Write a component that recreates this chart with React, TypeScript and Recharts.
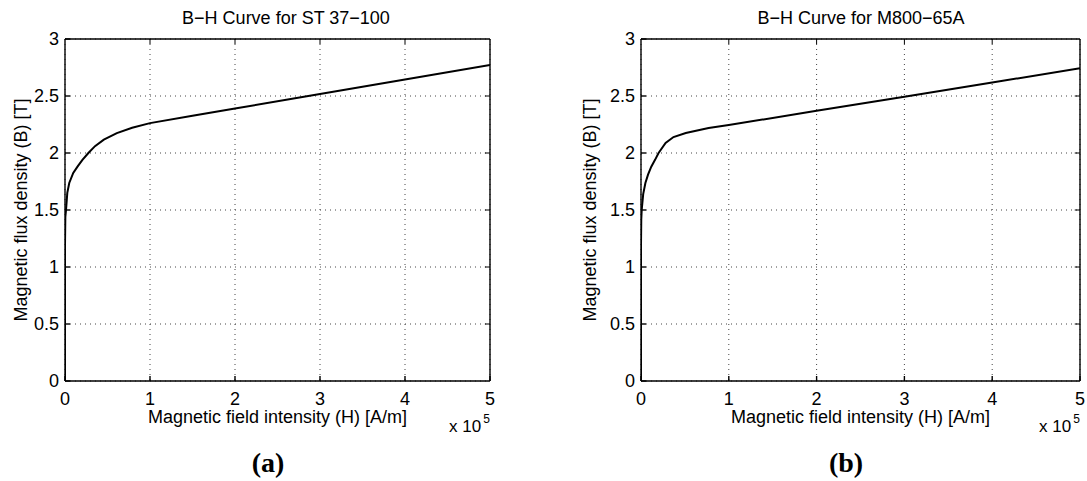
import React from 'react';
import { LineChart, Line, XAxis, YAxis, CartesianGrid, ReferenceLine } from 'recharts';

// H in units of 1e5 A/m, B in tesla
const hSt37 = [0, 0, 0.004, 0.012, 0.027, 0.05, 0.097, 0.147, 0.205, 0.275, 0.353, 0.457, 0.61, 0.79, 1.0, 1.5, 2, 3, 4, 5];
const bSt37 = [0, 1.2, 1.44, 1.5, 1.65, 1.737, 1.825, 1.88, 1.94, 2.0, 2.06, 2.117, 2.175, 2.222, 2.262, 2.327, 2.39, 2.517, 2.645, 2.772];

const hM800 = [0, 0, 0.003, 0.008, 0.025, 0.05, 0.08, 0.117, 0.16, 0.2, 0.28, 0.37, 0.51, 0.77, 1.0, 2, 3, 4, 5];
const bM800 = [0, 1.2, 1.42, 1.5, 1.64, 1.737, 1.81, 1.88, 1.94, 2.0, 2.088, 2.14, 2.175, 2.22, 2.245, 2.37, 2.493, 2.618, 2.743];

const xTicks = [0, 1, 2, 3, 4, 5];
const yTicks = [0, 0.5, 1, 1.5, 2, 2.5, 3];

const titles = ['B\u2212H Curve for ST 37\u2212100', 'B\u2212H Curve for M800\u221265A'];
const captions = ['(a)', '(b)'];
const xLabel = 'Magnetic field intensity (H) [A/m]';
const yLabel = 'Magnetic flux density (B) [T]';

const FONT = '"Liberation Sans", Arial, Helvetica, sans-serif';
const tickStyle = { fill: '#000', fontSize: 18, fontFamily: FONT };

const toRows = (h: number[], b: number[]) => h.map((v, i) => ({ h: v, b: b[i] }));

interface PanelProps {
  h: number[];
  b: number[];
  left: number; // page x of the svg
  plotLeft: number;
  plotRight: number;
  title: string;
  titleX: number;
  caption: string;
  captionX: number;
  yLabelX: number;
}

const SVG_H = 481;
const PLOT_TOP = 39;
const PLOT_BOTTOM = 381;

function Panel(p: PanelProps) {
  const data = toRows(p.h, p.b);
  const width = p.plotRight - p.left + 8;
  const yAxisW = p.plotLeft - p.left;
  const center = (p.plotLeft + p.plotRight) / 2;
  return (
    <>
      <div style={{ position: 'absolute', left: p.left, top: 0 }}>
        <LineChart
          width={width}
          height={SVG_H}
          data={data}
          margin={{ top: PLOT_TOP, right: width - (p.plotRight - p.left), bottom: SVG_H - PLOT_BOTTOM - 30, left: 0 }}
        >
          <CartesianGrid stroke="#444" strokeDasharray="1 4" strokeWidth={1} />
          <XAxis
            dataKey="h"
            type="number"
            domain={[0, 5]}
            ticks={xTicks}
            height={30}
            stroke="#000"
            strokeWidth={1.4}
            tickSize={-5}
            tickMargin={16}
            tick={tickStyle}
            allowDataOverflow
          />
          <YAxis
            type="number"
            domain={[0, 3]}
            ticks={yTicks}
            width={yAxisW}
            stroke="#000"
            strokeWidth={1.4}
            tickSize={-5}
            tickMargin={11}
            tick={tickStyle}
            allowDataOverflow
          />
          {/* box: top and right edges */}
          <ReferenceLine x={5} stroke="#000" strokeWidth={1.4} ifOverflow="visible" />
          <ReferenceLine y={3} stroke="#000" strokeWidth={1.4} ifOverflow="visible" />
          {xTicks.slice(1, -1).map(t => (
            <ReferenceLine
              key={`tx-${t}`}
              segment={[{ x: t, y: 3 }, { x: t, y: 2.956 }]}
              stroke="#000"
              strokeWidth={1}
            />
          ))}
          {yTicks.slice(1, -1).map(t => (
            <ReferenceLine
              key={`ty-${t}`}
              segment={[{ x: 5, y: t }, { x: 4.94, y: t }]}
              stroke="#000"
              strokeWidth={1}
            />
          ))}
          <Line
            type="linear"
            dataKey="b"
            stroke="#000"
            strokeWidth={2}
            dot={false}
            isAnimationActive={false}
          />
        </LineChart>
      </div>
      <div style={{ position: 'absolute', left: p.titleX, top: 18, transform: 'translate(-50%, -50%)', fontSize: 18, fontFamily: FONT, lineHeight: '18px', whiteSpace: 'nowrap' }}>
        {p.title}
      </div>
      <div style={{ position: 'absolute', left: center, top: 417, transform: 'translate(-50%, -50%)', fontSize: 18, fontFamily: FONT, lineHeight: '18px', whiteSpace: 'nowrap' }}>
        {xLabel}
      </div>
      <div style={{ position: 'absolute', left: p.yLabelX, top: (PLOT_TOP + PLOT_BOTTOM) / 2, transform: 'translate(-50%, -50%) rotate(-90deg)', fontSize: 18, fontFamily: FONT, lineHeight: '18px', whiteSpace: 'nowrap' }}>
        {yLabel}
      </div>
      <div style={{ position: 'absolute', left: p.plotRight - 41, top: 418, fontSize: 17, fontFamily: FONT, lineHeight: '18px', whiteSpace: 'nowrap' }}>
        x 10<span style={{ position: 'relative', top: -9, fontSize: 12, marginLeft: 2 }}>5</span>
      </div>
      <div style={{ position: 'absolute', left: p.captionX, top: 463, transform: 'translate(-50%, -50%)', fontSize: 28, fontWeight: 'bold', fontFamily: '"Liberation Serif", "DejaVu Serif", serif', lineHeight: '28px' }}>
        {p.caption}
      </div>
    </>
  );
}

export default function App() {
  return (
    <div style={{ position: 'absolute', left: 0, top: 0, width: 1087, height: 481, background: '#fff', overflow: 'hidden' }}>
      <Panel h={hSt37} b={bSt37} left={0} plotLeft={65} plotRight={490} title={titles[0]} titleX={286} caption={captions[0]} captionX={268} yLabelX={21} />
      <Panel h={hM800} b={bM800} left={545} plotLeft={641} plotRight={1080} title={titles[1]} titleX={861} caption={captions[1]} captionX={846} yLabelX={590} />
    </div>
  );
}
